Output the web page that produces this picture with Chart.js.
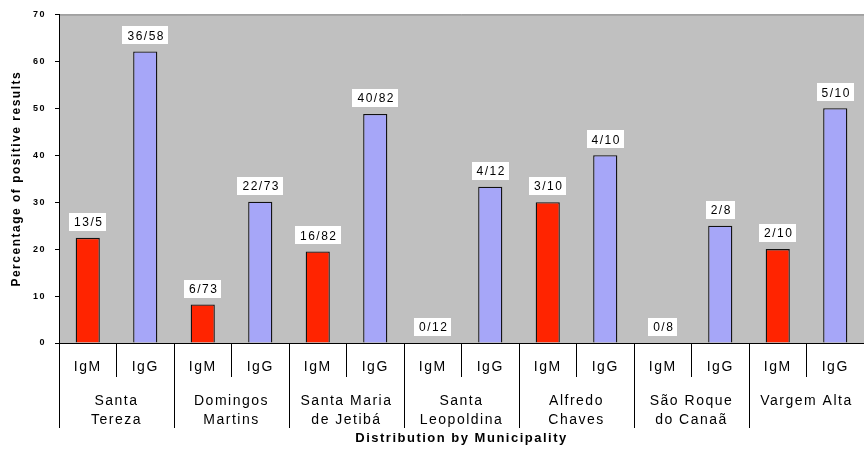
<!DOCTYPE html>
<html>
<head>
<meta charset="utf-8">
<script src="https://cdn.jsdelivr.net/npm/chart.js@4.4.0/dist/chart.umd.min.js"></script>
<style>
  html, body { margin: 0; padding: 0; background: #fff; }
  #wrap { width: 864px; height: 454px; }
</style>
</head>
<body>
<div id="wrap"><canvas id="myChart" width="864" height="454"></canvas></div>
<script>
// municipalities (second row of the x axis)
let municipalities = [
	['Santa', 'Tereza'],
	['Domingos', 'Martins'],
	['Santa Maria', 'de Jetibá'],
	['Santa', 'Leopoldina'],
	['Alfredo', 'Chaves'],
	['São Roque', 'do Canaã'],
	'Vargem Alta'
];
let antibodies = ['IgM', 'IgG'];

// percentage of positive results
let igm = [22.4, 8.2, 19.5, 0, 30, 0, 20];
let igg = [62.1, 30.1, 48.8, 33.3, 40, 25, 50];

// positives / tested, shown above each bar
let igmRatio = ['13/5', '6/73', '16/82', '0/12', '3/10', '0/8', '2/10'];
let iggRatio = ['36/58', '22/73', '40/82', '4/12', '4/10', '2/8', '5/10'];

let yTicks = [0, 10, 20, 30, 40, 50, 60, 70];

const RED = '#FF2400';
const BLUE = '#A6A6F8';
const INK = '#000';

// interleave IgM / IgG for every municipality
let labels = [];
let values = [];
let ratios = [];
let colors = [];
for (let i = 0; i < municipalities.length; i++) {
	labels.push(antibodies[0], antibodies[1]);
	values.push(igm[i], igg[i]);
	ratios.push(igmRatio[i], iggRatio[i]);
	colors.push(RED, BLUE);
}

const plotBackground = {
	id: 'plotBackground',
	beforeDraw(chart) {
		const ctx = chart.ctx;
		const a = chart.chartArea;
		ctx.save();
		ctx.fillStyle = '#fff';
		ctx.fillRect(0, 0, chart.width, chart.height);
		ctx.fillStyle = '#C0C0C0';
		ctx.fillRect(a.left, a.top, a.right - a.left, a.bottom - a.top);
		ctx.strokeStyle = '#7f7f7f';
		ctx.lineWidth = 1;
		ctx.beginPath();
		ctx.moveTo(a.left, a.top + 0.5);
		ctx.lineTo(a.right, a.top + 0.5);
		ctx.stroke();
		ctx.restore();
		// the old picture has wide, stretched lettering
		ctx.letterSpacing = '1.5px';
	},
	afterDraw(chart) {
		chart.ctx.letterSpacing = '0px';
	}
};

// white boxes with the counts above the bars
const ratioLabels = {
	id: 'ratioLabels',
	afterDatasetsDraw(chart) {
		const ctx = chart.ctx;
		const meta = chart.getDatasetMeta(0);
		ctx.save();
		ctx.font = '12px "Liberation Sans", Arial, sans-serif';
		ctx.letterSpacing = '1.5px';
		ctx.textAlign = 'center';
		ctx.textBaseline = 'middle';
		meta.data.forEach(function(bar, i) {
			const txt = ratios[i];
			const w = ctx.measureText(txt).width + 8;
			const h = 18;
			const cy = bar.y - 16;
			ctx.fillStyle = '#fff';
			ctx.fillRect(Math.round(bar.x - w / 2), Math.round(cy - h / 2), Math.round(w), h);
			ctx.fillStyle = '#000';
			ctx.fillText(txt, bar.x + 1, cy + 1);
		});
		ctx.restore();
	}
};

var ctx = document.getElementById('myChart').getContext('2d');
var myChart = new Chart(ctx, {
	type: 'bar',
	data: {
		labels: labels,
		datasets: [{
			data: values,
			backgroundColor: colors,
			borderColor: '#111',
			borderWidth: function(c) { return c.raw === 0 ? 0 : 1.3; },
			borderSkipped: 'bottom',
			categoryPercentage: 1,
			barPercentage: 0.42
		}]
	},
	options: {
		responsive: false,
		animation: false,
		devicePixelRatio: 1,
		layout: { padding: { top: 14, right: 0, left: 0, bottom: 0 } },
		plugins: {
			legend: { display: false },
			tooltip: { enabled: false }
		},
		scales: {
			y: {
				min: 0,
				max: 70,
				afterFit: function(s) { s.width = 59; },
				afterBuildTicks: function(s) { s.ticks = yTicks.map(v => ({ value: v })); },
				ticks: {
					color: '#000',
					padding: 9,
					font: { family: '"Liberation Sans", Arial, sans-serif', size: 9, weight: 'bold' }
				},
				grid: { drawOnChartArea: false, tickLength: 4, tickColor: INK },
				border: { color: INK },
				title: {
					display: true,
					text: 'Percentage of positive results',
					color: '#000',
					padding: { top: 9, bottom: 0 },
					font: { family: '"Liberation Sans", Arial, sans-serif', size: 12, weight: 'bold' }
				}
			},
			x: {
				position: 'bottom',
				afterFit: function(s) { s.height = 34; },
				ticks: {
					color: '#000',
					autoSkip: false,
					maxRotation: 0,
					padding: -18,
					font: { family: '"Liberation Sans", Arial, sans-serif', size: 14 }
				},
				grid: {
					offset: true,
					drawOnChartArea: false,
					tickLength: 34,
					tickColor: function(c) { return c.type === 'tick' ? INK : 'rgba(0,0,0,0)'; }
				},
				border: { color: INK }
			},
			x2: {
				type: 'category',
				position: 'bottom',
				labels: municipalities,
				afterFit: function(s) { s.height = 77; },
				ticks: {
					color: '#000',
					autoSkip: false,
					maxRotation: 0,
					padding: -36,
					font: { family: '"Liberation Sans", Arial, sans-serif', size: 14, lineHeight: 1.35 }
				},
				grid: {
					offset: true,
					drawOnChartArea: false,
					tickLength: 51,
					tickColor: function(c) { return c.type === 'tick' ? INK : 'rgba(0,0,0,0)'; }
				},
				border: { display: false },
				title: {
					display: true,
					text: 'Distribution by Municipality',
					color: '#000',
					padding: { top: 0, bottom: 8 },
					font: { family: '"Liberation Sans", Arial, sans-serif', size: 13, weight: 'bold' }
				}
			}
		}
	},
	plugins: [plotBackground, ratioLabels]
});
</script>
</body>
</html>
